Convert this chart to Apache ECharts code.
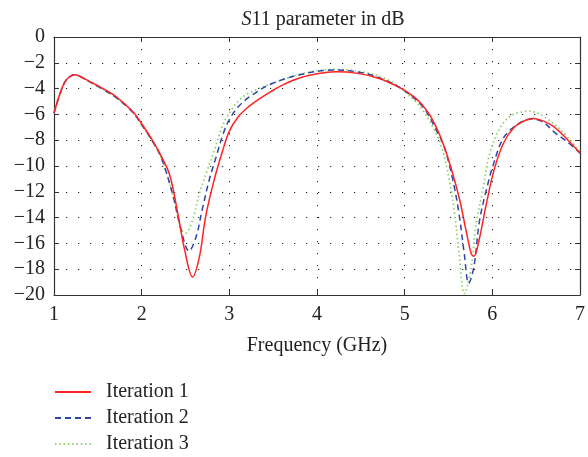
<!DOCTYPE html>
<html>
<head>
<meta charset="utf-8">
<title>S11 parameter in dB</title>
<script src="https://cdn.jsdelivr.net/npm/echarts@6/dist/echarts.min.js"></script>
<style>
  html, body { margin: 0; padding: 0; background: #fff; }
  #chart { width: 588px; height: 457px; }
</style>
</head>
<body>
<div id="chart"></div>
<script>
// frequency (GHz) / S11 (dB)
const iter1Freq = [1.00, 1.07, 1.14, 1.24, 1.35, 1.45, 1.52, 1.71, 1.90, 2.01, 2.12, 2.22, 2.32, 2.41, 2.49, 2.58, 2.66, 2.73, 2.83, 2.92, 3.00, 3.10, 3.22, 3.34, 3.47, 3.60, 3.79, 4.00, 4.21, 4.45, 4.70, 4.96, 5.10, 5.20, 5.30, 5.40, 5.49, 5.62, 5.70, 5.76, 5.79, 5.85, 5.93, 6.02, 6.13, 6.25, 6.38, 6.47, 6.58, 6.70, 6.85, 7.00];
const iter1Db = [-5.9, -4.37, -3.33, -2.92, -3.25, -3.6, -3.85, -4.63, -5.79, -6.82, -7.98, -9.2, -10.7, -13.6, -16.5, -18.6, -17.0, -13.9, -11.0, -8.9, -7.3, -6.2, -5.4, -4.8, -4.25, -3.75, -3.2, -2.85, -2.69, -2.8, -3.2, -3.98, -4.6, -5.25, -6.2, -7.6, -9.28, -12.4, -15.0, -16.8, -17.0, -15.7, -13.0, -10.3, -8.2, -7.0, -6.45, -6.31, -6.5, -6.95, -7.9, -9.0];

const iter2Freq = [1.00, 1.07, 1.14, 1.24, 1.35, 1.45, 1.52, 1.71, 1.90, 2.01, 2.12, 2.22, 2.35, 2.45, 2.54, 2.62, 2.69, 2.77, 2.85, 2.93, 3.00, 3.11, 3.26, 3.49, 3.87, 4.21, 4.55, 4.77, 4.96, 5.15, 5.25, 5.34, 5.45, 5.55, 5.62, 5.68, 5.73, 5.79, 5.85, 5.93, 6.02, 6.13, 6.29, 6.45, 6.58, 6.70, 6.85, 7.00];
const iter2Db = [-5.9, -4.37, -3.33, -2.92, -3.25, -3.65, -3.9, -4.7, -5.85, -6.9, -8.05, -9.3, -12.1, -14.96, -16.6, -15.5, -13.4, -11.1, -9.28, -7.5, -6.4, -5.35, -4.5, -3.6, -2.82, -2.56, -2.82, -3.33, -3.98, -5.0, -5.8, -6.95, -8.5, -11.1, -13.7, -16.8, -19.1, -17.8, -14.4, -11.9, -9.7, -7.8, -6.75, -6.36, -6.6, -7.34, -8.1, -9.0];

const iter3Freq = [1.00, 1.07, 1.14, 1.24, 1.35, 1.45, 1.52, 1.71, 1.90, 2.01, 2.12, 2.22, 2.35, 2.45, 2.50, 2.58, 2.66, 2.75, 2.83, 2.91, 2.98, 3.10, 3.22, 3.60, 3.90, 4.20, 4.55, 4.80, 4.96, 5.15, 5.23, 5.30, 5.42, 5.51, 5.57, 5.62, 5.68, 5.76, 5.81, 5.89, 5.96, 6.06, 6.19, 6.34, 6.42, 6.59, 6.78, 7.00];
const iter3Db = [-5.9, -4.37, -3.33, -2.92, -3.25, -3.65, -3.9, -4.7, -5.85, -6.9, -8.05, -9.3, -12.1, -14.9, -15.2, -14.2, -12.1, -10.3, -8.76, -7.1, -6.1, -5.0, -4.36, -3.33, -2.75, -2.5, -2.75, -3.3, -4.0, -5.2, -5.9, -6.7, -8.5, -11.1, -13.7, -16.8, -19.9, -17.8, -14.7, -11.9, -9.3, -7.4, -6.2, -5.8, -5.74, -6.18, -7.2, -8.9];

const seriesNames = ["Iteration 1", "Iteration 2", "Iteration 3"];

const pairs = (xs, ys) => xs.map((x, i) => [x, ys[i]]);

const chart = echarts.init(document.getElementById("chart"));

const serif = "'Liberation Serif', 'DejaVu Serif', serif";
const axisColor = "#333";

const gridLine = {
  show: true,
  lineStyle: { color: "#222", width: 1, type: [1.2, 10.8] },
};

const option = {
  animation: false,
  backgroundColor: "#fff",
  title: {
    text: "{i|S}11 parameter in dB",
    left: 318,
    top: 5,
    textAlign: "center",
    textStyle: {
      fontFamily: serif,
      fontSize: 20,
      fontWeight: "normal",
      color: "#222",
      rich: {
        i: { fontFamily: serif, fontSize: 20, fontStyle: "italic", color: "#222" },
      },
    },
  },
  legend: {
    orient: "vertical",
    left: 54,
    top: 382,
    padding: 0,
    itemWidth: 36,
    itemHeight: 14,
    itemGap: 6,
    data: seriesNames,
    itemStyle: { opacity: 0 },
    textStyle: {
      fontFamily: serif,
      fontSize: 20,
      lineHeight: 20,
      color: "#222",
      padding: [0, 0, 0, 10],
    },
  },
  grid: { left: 54, right: 5, top: 37, bottom: 162 },
  xAxis: [
    {
      type: "value",
      min: 1,
      max: 7,
      interval: 1,
      name: "Frequency (GHz)",
      nameLocation: "middle",
      nameGap: 41,
      nameTextStyle: { fontFamily: serif, fontSize: 20, color: "#222" },
      axisLine: { onZero: false, lineStyle: { color: axisColor, width: 1.2 } },
      axisTick: { inside: true, length: 5, lineStyle: { color: axisColor } },
      axisLabel: { fontFamily: serif, fontSize: 20, color: "#222", margin: 10 },
      splitLine: gridLine,
    },
    {
      type: "value",
      position: "top",
      min: 1,
      max: 7,
      interval: 1,
      axisLine: { onZero: false, lineStyle: { color: axisColor, width: 1.2 } },
      axisTick: { inside: true, length: 5, lineStyle: { color: axisColor } },
      axisLabel: { show: false },
      splitLine: { show: false },
    },
  ],
  yAxis: [
    {
      type: "value",
      min: -20,
      max: 0,
      interval: 2,
      axisLine: { show: true, onZero: false, lineStyle: { color: axisColor, width: 1.2 } },
      axisTick: { show: true, inside: true, length: 5, lineStyle: { color: axisColor } },
      axisLabel: {
        fontFamily: serif,
        fontSize: 20,
        color: "#222",
        margin: 9,
        formatter: (v) => String(v).replace("-", "\u2212"),
      },
      splitLine: gridLine,
    },
    {
      type: "value",
      position: "right",
      min: -20,
      max: 0,
      interval: 2,
      axisLine: { show: true, onZero: false, lineStyle: { color: axisColor, width: 1.2 } },
      axisTick: { show: true, inside: true, length: 5, lineStyle: { color: axisColor } },
      axisLabel: { show: false },
      splitLine: { show: false },
    },
  ],
  series: [
    {
      name: seriesNames[0],
      type: "line",
      data: pairs(iter1Freq, iter1Db),
      smooth: 0.35,
      symbol: "none",
      clip: true,
      z: 4,
      lineStyle: { color: "#ff2222", width: 1.5, type: "solid" },
      itemStyle: { color: "#ff2222" },
    },
    {
      name: seriesNames[1],
      type: "line",
      data: pairs(iter2Freq, iter2Db),
      smooth: 0.35,
      symbol: "none",
      clip: true,
      z: 3,
      lineStyle: { color: "#2e46a6", width: 1.5, type: [6, 4] },
      itemStyle: { color: "#2e46a6" },
    },
    {
      name: seriesNames[2],
      type: "line",
      data: pairs(iter3Freq, iter3Db),
      smooth: 0.35,
      symbol: "none",
      clip: true,
      z: 2,
      lineStyle: { color: "#8fd068", width: 1.8, type: [1.5, 2.8] },
      itemStyle: { color: "#8fd068" },
    },
  ],
};

chart.setOption(option);
</script>
</body>
</html>
